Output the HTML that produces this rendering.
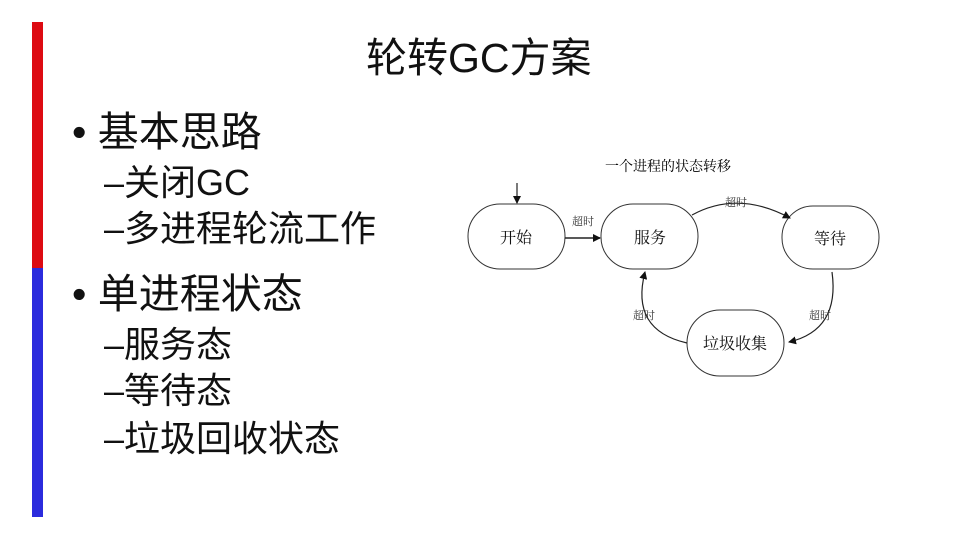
<!DOCTYPE html>
<html><head><meta charset="utf-8"><style>
body{margin:0;width:960px;height:540px;background:#fff;position:relative;overflow:hidden;font-family:"Liberation Sans","Noto Sans CJK SC",sans-serif;color:#111}
.t{position:absolute;white-space:nowrap}
</style></head><body>
<div style="position:absolute;left:32px;top:22px;width:11px;height:246px;background:#dd0a12"></div>
<div style="position:absolute;left:32px;top:268px;width:11px;height:249px;background:#2b2bdd"></div>
<div class="t" style="left:366px;top:32px;font-size:41px;line-height:52px">轮转GC方案</div>
<div class="t" style="left:72px;top:106px;font-size:41px;line-height:52px">• 基本思路</div>
<div class="t" style="left:104px;top:160px;font-size:36px;line-height:46px">–关闭GC</div>
<div class="t" style="left:104px;top:206px;font-size:36px;line-height:46px">–多进程轮流工作</div>
<div class="t" style="left:72px;top:268px;font-size:41px;line-height:52px">• 单进程状态</div>
<div class="t" style="left:104px;top:322px;font-size:36px;line-height:46px">–服务态</div>
<div class="t" style="left:104px;top:368px;font-size:36px;line-height:46px">–等待态</div>
<div class="t" style="left:104px;top:416px;font-size:36px;line-height:46px">–垃圾回收状态</div>
<svg width="960" height="540" style="position:absolute;left:0;top:0" font-family="Liberation Serif,Noto Serif CJK SC,serif">
<defs><marker id="a" markerWidth="8" markerHeight="8" refX="7" refY="4" orient="auto" markerUnits="userSpaceOnUse"><path d="M0,0 L8,4 L0,8z" fill="#111"/></marker></defs>
<text x="668" y="171" font-size="14" text-anchor="middle">一个进程的状态转移</text>
<g fill="#fff" stroke="#333" stroke-width="1">
<rect x="468" y="204" width="97" height="65" rx="32"/>
<rect x="601" y="204" width="97" height="65" rx="32"/>
<rect x="782" y="206" width="97" height="63" rx="31"/>
<rect x="687" y="310" width="97" height="66" rx="33"/>
</g>
<g font-size="16" text-anchor="middle" fill="#111">
<text x="516" y="243">开始</text><text x="650" y="243">服务</text><text x="830" y="244">等待</text><text x="735" y="349">垃圾收集</text>
</g>
<g stroke="#222" fill="none" stroke-width="1.2" marker-end="url(#a)">
<line x1="517" y1="183" x2="517" y2="203"/>
<line x1="565" y1="238" x2="600" y2="238" stroke-width="1.6"/>
<path d="M692,215 Q738,190 790,218"/>
<path d="M832,272 Q840,330 789,342"/>
<path d="M687,343 Q630,330 645,272"/>
</g>
<g font-size="11" text-anchor="middle" fill="#333">
<text x="583" y="225">超时</text><text x="736" y="206">超时</text><text x="820" y="319">超时</text><text x="644" y="319">超时</text>
</g>
</svg>
</body></html>
